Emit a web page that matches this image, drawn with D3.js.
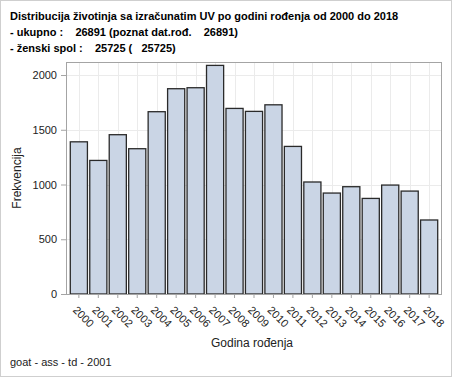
<!DOCTYPE html>
<html><head><meta charset="utf-8">
<script src="https://cdn.jsdelivr.net/npm/d3@7"></script>
<style>body{margin:0;background:#fff}svg{display:block;font-family:Arial,"Liberation Sans",sans-serif}</style>
</head><body><svg id="c" width="454" height="378"></svg>
<script>
const years = ["2000","2001","2002","2003","2004","2005","2006","2007","2008","2009","2010","2011","2012","2013","2014","2015","2016","2017","2018"];
const counts = [1390,1220,1455,1327,1665,1875,1884,2088,1695,1668,1728,1348,1023,922,980,873,995,940,676];
const yTicks = [0,500,1000,1500,2000];
const titleLines = ["Distribucija životinja sa izračunatim UV po godini rođenja od 2000 do 2018","- ukupno :    26891 (poznat dat.rođ.    26891)","- ženski spol :    25725 (   25725)"];
const xTitle = "Godina rođenja", yTitle = "Frekvencija", footer = "goat - ass - td - 2001";

const svg = d3.select("#c");
const L=66, R=442, T=62, B=294;
svg.append("rect").attr("x",0.5).attr("y",0.5).attr("width",451).attr("height",376).attr("fill","#fff").attr("stroke","#cfcfcf");

const x = d3.scaleBand().domain(years).range([70.3,437.7]).paddingInner(0.12).paddingOuter(0);
const y = d3.scaleLinear().domain([0,2119]).range([B,T]);

// grid
svg.append("g").selectAll("line").data(yTicks).join("line")
  .attr("x1",L).attr("x2",R).attr("y1",d=>Math.round(y(d))+0.5).attr("y2",d=>Math.round(y(d))+0.5)
  .attr("stroke","#ebebeb");
svg.append("g").selectAll("line").data(years).join("line")
  .attr("x1",d=>Math.round(x(d)+x.bandwidth()/2)+0.5).attr("x2",d=>Math.round(x(d)+x.bandwidth()/2)+0.5)
  .attr("y1",T).attr("y2",B).attr("stroke","#ebebeb");

// bars
svg.append("g").selectAll("rect").data(counts).join("rect")
  .attr("x",(d,i)=>x(years[i])).attr("width",x.bandwidth())
  .attr("y",d=>y(d)).attr("height",d=>B-y(d))
  .attr("fill","#cad5e5").attr("stroke","#2a2a2a").attr("stroke-width",1.3);

// frame
svg.append("rect").attr("x",L+0.5).attr("y",T+0.5).attr("width",R-L-1).attr("height",B-T).attr("fill","none").attr("stroke","#a4a4a4");

// y axis
const ya = svg.append("g").attr("transform",`translate(${L},0)`).call(d3.axisLeft(y).tickValues(yTicks).tickSize(5).tickPadding(4).tickFormat(d3.format("d")));
ya.select(".domain").remove();
ya.selectAll("line").attr("stroke","#a4a4a4");
ya.selectAll("text").attr("font-size",11).attr("fill","#222").attr("font-family","Arial,'Liberation Sans',sans-serif");

// x axis
const xa = svg.append("g").attr("transform",`translate(0,${B})`).call(d3.axisBottom(x).tickSize(4).tickPadding(3));
xa.select(".domain").remove();
xa.selectAll("line").attr("stroke","#a4a4a4");
xa.selectAll("text").attr("font-size",11).attr("fill","#222").attr("font-family","Arial,'Liberation Sans',sans-serif")
  .attr("text-anchor","start").attr("dy","0.35em").attr("x",0).attr("y",0)
  .attr("transform","translate(-4,14) rotate(45)");

// axis titles
svg.append("text").attr("x",252).attr("y",347).attr("text-anchor","middle").attr("font-size",12).attr("fill","#222").text(xTitle);
svg.append("text").attr("transform","translate(21,178) rotate(-90)").attr("text-anchor","middle").attr("font-size",12).attr("fill","#222").text(yTitle);

// titles
svg.append("g").selectAll("text").data(titleLines).join("text")
  .attr("x",10).attr("y",(d,i)=>20+i*16).attr("font-size",11).attr("font-weight","bold").attr("fill","#000")
  .attr("xml:space","preserve").style("white-space","pre").text(d=>d);

svg.append("text").attr("x",10).attr("y",366).attr("font-size",11).attr("fill","#222").text(footer);
</script></body></html>
